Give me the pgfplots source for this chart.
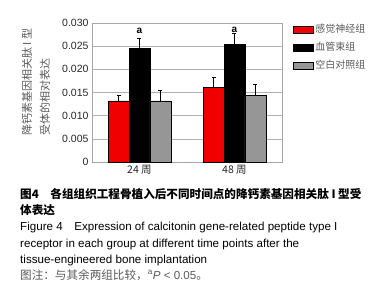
\documentclass[border=0pt]{standalone}
\usepackage{fontspec}
\setmainfont{Liberation Sans}
\newfontfamily\cjk{Noto Sans CJK SC}
\usepackage{pgfplots}
\pgfplotsset{compat=1.18}
\definecolor{barred}{RGB}{240,0,0}
\definecolor{bargray}{RGB}{150,150,150}
\definecolor{txtgray}{RGB}{90,90,90}
\begin{document}
\begin{tikzpicture}
\useasboundingbox (0,0) rectangle (376pt,-300pt);
\begin{axis}[
  at={(92pt,-162pt)}, anchor=south west,
  scale only axis, width=190pt, height=139pt,
  xmin=-0.5, xmax=1.5, ymin=0, ymax=0.030,
  scaled y ticks=false,
  xtick={0,1}, xticklabels={{\cjk 24 周},{\cjk 48 周}},
  ytick={0,0.005,0.010,0.015,0.020,0.025,0.030},
  yticklabels={0,0.005,0.010,0.015,0.020,0.025,0.030},
  /pgf/number format/assume math mode=true,
  tick label style={font=\fontsize{10.5}{12}\selectfont, text=black!85},
  major tick length=0pt,
  ymajorgrids, grid style={gray!60, line width=0.5pt},
  axis line style={gray!70},
  ybar=0pt, bar width=0.22,
  legend style={at={(1.04,1.02)}, anchor=north west, draw=none, fill=none,
    font=\cjk\fontsize{10}{12}\selectfont, text=txtgray, row sep=4pt},
  legend cell align=left,
  legend image code/.code={\draw[#1] (0pt,-3.5pt) rectangle (20pt,3.5pt);},
  error bars/y dir=plus, error bars/y explicit,
  error bars/error bar style={black, line width=0.5pt},
  error bars/error mark options={rotate=90, mark size=2pt, black, line width=0.5pt},
]
\addplot[fill=barred, draw=black, line width=0.5pt] coordinates {(0,0.0132) +- (0,0.0013) (1,0.0161) +- (0,0.0022)};
\addplot[fill=black, draw=black, line width=0.5pt] coordinates {(0,0.0245) +- (0,0.0023) (1,0.0254) +- (0,0.0024)};
\addplot[fill=bargray, draw=black, line width=0.5pt] coordinates {(0,0.0132) +- (0,0.0022) (1,0.0143) +- (0,0.0025)};
\legend{感觉神经组,血管束组,空白对照组}
\node[font=\bfseries\fontsize{10}{12}\selectfont] at (axis cs:0,0.0282) {a};
\node[font=\bfseries\fontsize{10}{12}\selectfont] at (axis cs:1,0.0286) {a};
\end{axis}
\node[rotate=90, anchor=west, font=\cjk\fontsize{11}{12}\selectfont, text=txtgray] at (27pt,-139pt) {降钙素基因相关肽 I 型};
\node[rotate=90, anchor=west, font=\cjk\fontsize{11}{12}\selectfont, text=txtgray] at (45pt,-139pt) {受体的相对表达};
\begin{scope}[every node/.style={anchor=west, inner sep=0pt}]
\node[font=\cjk\bfseries\fontsize{11.6}{12}\selectfont] at (20pt,-194pt) {图4\hspace{1em}各组组织工程骨植入后不同时间点的降钙素基因相关肽 I 型受};
\node[font=\cjk\bfseries\fontsize{11.6}{12}\selectfont] at (20pt,-210pt) {体表达};
\node[font=\fontsize{11.6}{12}\selectfont] at (20pt,-227pt) {Figure 4\hspace{1em}Expression of calcitonin gene-related peptide type I};
\node[font=\fontsize{11.6}{12}\selectfont] at (20pt,-244pt) {receptor in each group at different time points after the};
\node[font=\fontsize{11.6}{12}\selectfont] at (20pt,-260pt) {tissue-engineered bone implantation};
\node[font=\fontsize{11.6}{12}\selectfont, text=txtgray] at (20pt,-275pt) {{\cjk 图注：与其余两组比较，}\textsuperscript{a}\textit{P} < 0.05{\cjk 。}};
\end{scope}
\end{tikzpicture}
\end{document}
